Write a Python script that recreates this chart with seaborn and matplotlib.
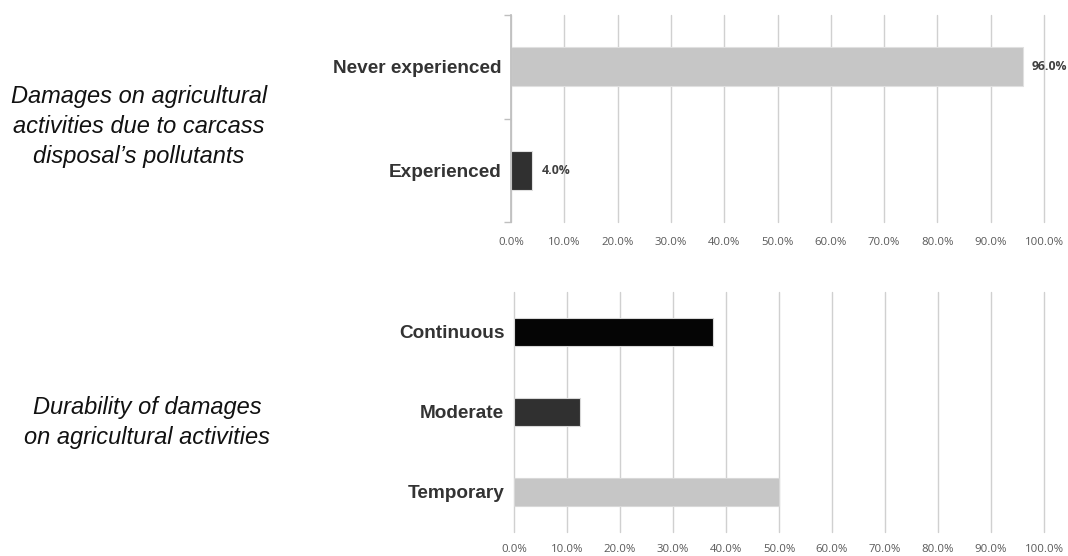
import matplotlib
matplotlib.use("Agg")
import matplotlib.pyplot as plt
import seaborn as sns
from matplotlib.ticker import FuncFormatter, FixedLocator

# data
exp_cats = ["Never experienced", "Experienced"]
exp_vals = [96.0, 4.0]
exp_colors = ["#c6c6c6", "#303030"]

dur_cats = ["Continuous", "Moderate", "Temporary"]
dur_vals = [37.5, 12.5, 50.0]
dur_colors = ["#050505", "#303030", "#c6c6c6"]

x_ticks = [0, 10, 20, 30, 40, 50, 60, 70, 80, 90, 100]

sns.set_theme(style="white")
plt.rcParams["font.family"] = ["Liberation Sans", "DejaVu Sans"]

fig = plt.figure(figsize=(10.68, 5.56), dpi=100)
ax1 = fig.add_axes([0.4785, 0.6007, 0.4991, 0.3723])
ax2 = fig.add_axes([0.4813, 0.0432, 0.4963, 0.4317])


def style_axis(ax, cats, left_spine, xpad):
    ax.set_xlim(0, 100)
    ax.set_ylim(len(cats) - 0.5, -0.5)
    ax.xaxis.set_major_locator(FixedLocator(x_ticks))
    ax.xaxis.set_major_formatter(FuncFormatter(lambda v, p: f"{v:.1f}%"))
    ax.grid(axis="x", color="#d0d0d0", linewidth=1.0)
    for gl in ax.get_xgridlines():
        gl.set_clip_on(False)
    ax.set_axisbelow(True)
    for s in ["top", "right", "bottom"]:
        ax.spines[s].set_visible(False)
    ax.spines["left"].set_visible(left_spine)
    ax.spines["left"].set_color("#bfbfbf")
    ax.tick_params(axis="x", length=0, pad=xpad, labelsize=8.2, labelcolor="#595959")
    for lab in ax.get_xticklabels():
        lab.set_family(["Open Sans", "DejaVu Sans"])
    ax.tick_params(axis="y", length=0, pad=7, labelsize=13.7, labelcolor="#333333")
    for lab in ax.get_yticklabels():
        lab.set_fontweight("bold")
    ax.set_xlabel("")
    ax.set_ylabel("")


# top panel
sns.barplot(x=exp_vals, y=exp_cats, hue=exp_cats, palette=exp_colors, orient="h",
            width=0.38, edgecolor="#e0e0e0", linewidth=0.8, legend=False, ax=ax1)
style_axis(ax1, exp_cats, True, 10.5)
ax1.set_yticks([-0.5, 0.5, 1.5], minor=True)
ax1.tick_params(axis="y", which="minor", length=5, color="#bfbfbf", left=True)
for i, v in enumerate(exp_vals):
    ax1.text(v + 1.7, i, f"{v:.1f}%", va="center", ha="left", fontsize=8.8,
             fontweight="bold", color="#404040", family=["Open Sans", "DejaVu Sans"])

# bottom panel
sns.barplot(x=dur_vals, y=dur_cats, hue=dur_cats, palette=dur_colors, orient="h",
            width=0.344, edgecolor="#d8d8d8", linewidth=0.8, legend=False, ax=ax2)
style_axis(ax2, dur_cats, False, 8.5)

# left side descriptions
fig.text(0.130, 0.7725, "Damages on agricultural\nactivities due to carcass\ndisposal\u2019s pollutants",
         ha="center", va="center", fontsize=17, style="italic", color="#111111",
         linespacing=1.4)
fig.text(0.138, 0.240, "Durability of damages\non agricultural activities",
         ha="center", va="center", fontsize=17, style="italic", color="#111111",
         linespacing=1.4)

fig.savefig("out.png", dpi=100)
